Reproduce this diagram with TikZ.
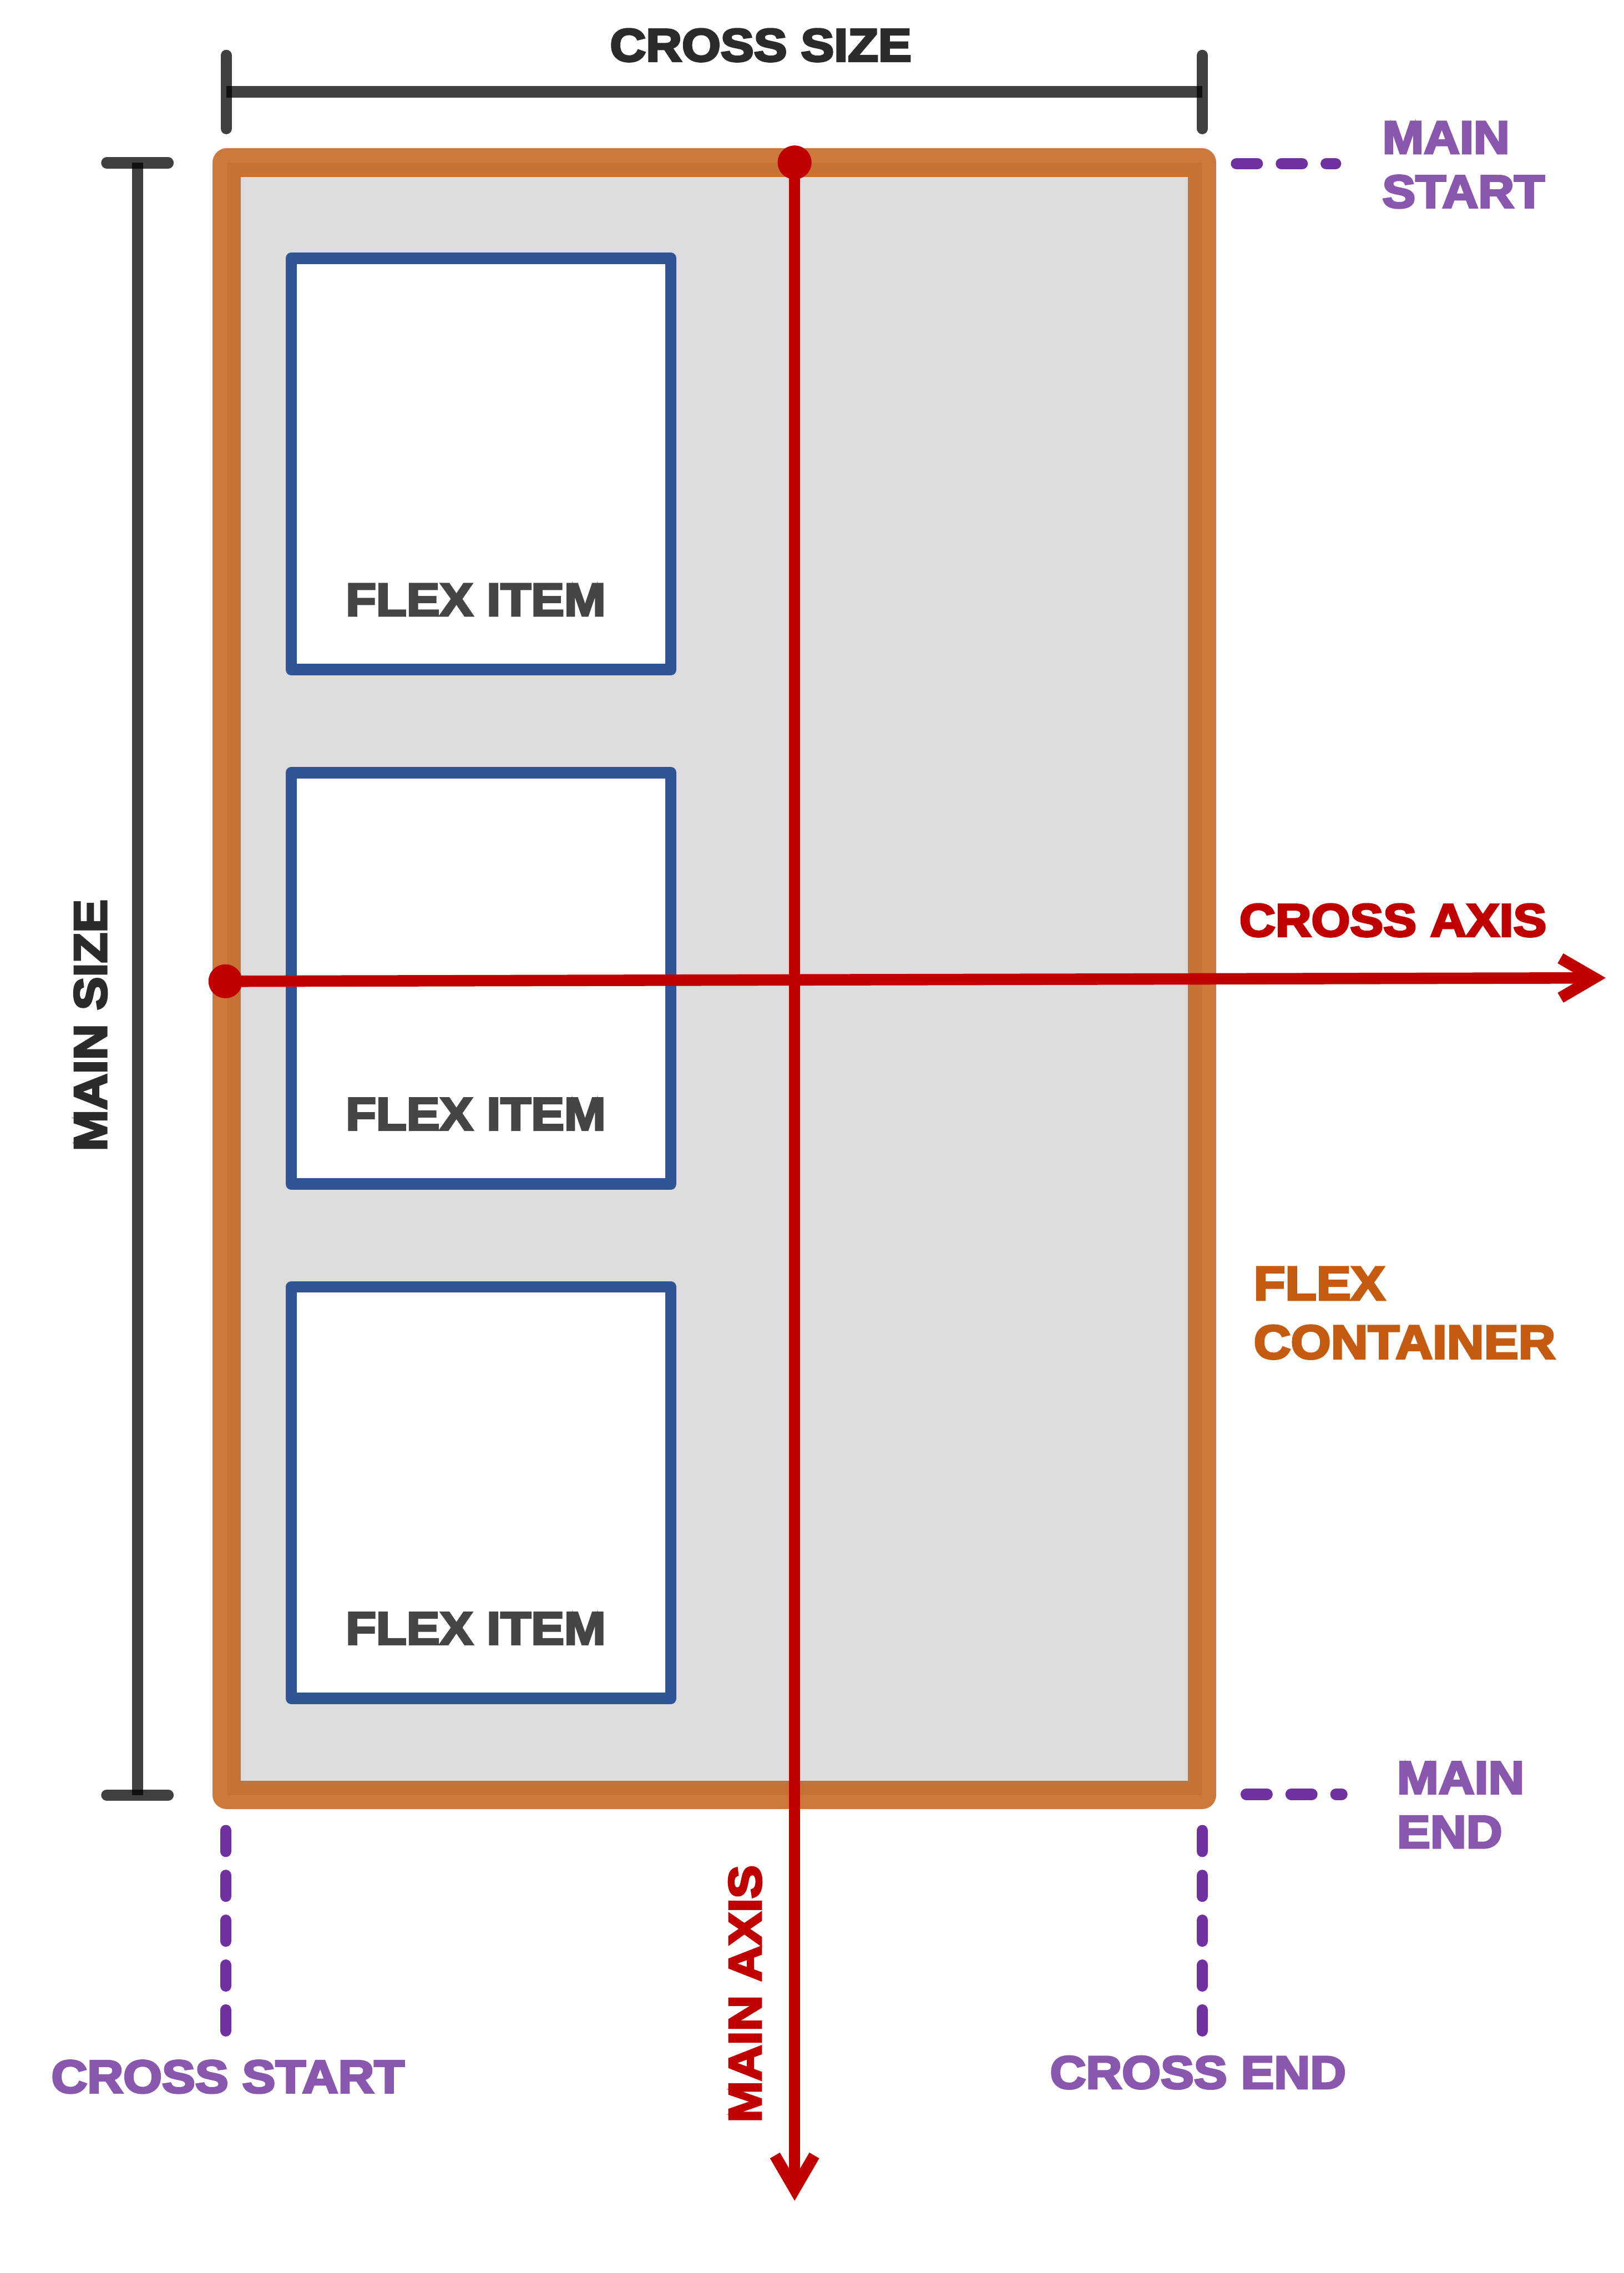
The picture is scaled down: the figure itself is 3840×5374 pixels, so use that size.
\documentclass[tikz,border=0pt]{standalone}
\usepackage{fontspec}
\setmainfont{Liberation Sans}
\newfontfamily\lblfont[FakeStretch=1.08,BoldFeatures={FakeBold=4.5}]{Liberation Sans}
\usetikzlibrary{arrows.meta}
\definecolor{orangeL}{HTML}{CD793C}
\definecolor{orangeD}{HTML}{C77235}
\definecolor{contfill}{HTML}{DCDCDC}
\definecolor{itemblue}{HTML}{2F5597}
\definecolor{axisred}{HTML}{C00000}
\definecolor{guidepurple}{HTML}{7030A0}
\definecolor{lblpurple}{HTML}{8957AE}
\definecolor{contorange}{HTML}{C55A11}
\definecolor{itemtext}{HTML}{454545}
\definecolor{dimtext}{HTML}{2B2B2B}
\begin{document}
\begin{tikzpicture}[x=0.01cm,y=-0.01cm,
  lbl/.style={inner sep=0pt, font=\lblfont\bfseries\fontsize{31}{36.4}\selectfont},
  container/.style={draw=orangeL, line width=0.67cm, fill=contfill, line join=round,
    outer sep=0pt, minimum width=23.05cm, minimum height=38.575cm, inner sep=0pt},
  itembox/.style={draw=itemblue, fill=white, line width=0.27cm, line join=round,
    minimum width=8.97cm, minimum height=9.72cm, inner sep=0pt},
  dot/.style={circle, fill=axisred, minimum size=0.8cm, inner sep=0pt},
  axis/.style={draw=axisred, line width=0.27cm, -{Straight Barb[length=0.8cm,width=0.93cm]}},
  dimbar/.style={draw=black, draw opacity=0.75, line width=0.265cm},
  dimtick/.style={draw=black, draw opacity=0.75, line width=0.265cm, line cap=round},
  guide/.style={draw=guidepurple, line width=0.27cm, line cap=round, dash pattern=on 0.49cm off 0.57cm}
]
\useasboundingbox (0,0) rectangle (3840,5374);

% flex container
\node[container] (fc) at (1689.5,2314.25) {};
\draw[orangeD, line width=0.335cm] ([xshift=0.1675cm,yshift=-0.1675cm]fc.north west) rectangle ([xshift=-0.1675cm,yshift=0.1675cm]fc.south east);

% flex items
\node[itembox] (i1) at (1137.5,1097) {};
\node[itembox] (i2) at (1137.5,2313) {};
\node[itembox] (i3) at (1137.5,3529) {};
\node[lbl, itemtext] (t1) at (1125,1418) {FLEX ITEM};
\node[lbl, itemtext] (t2) at (1125,2634) {FLEX ITEM};
\node[lbl, itemtext] (t3) at (1125,3850) {FLEX ITEM};

% main axis
\node[dot] (ms) at (1879,384) {};
\coordinate (mtip) at (1879,5203);
\draw[axis] (ms.center) -- (mtip);

% cross axis
\node[dot] (cs) at (533,2320) {};
\coordinate (ctip) at (3797,2312);
\draw[axis] (cs.center) -- (ctip);

% cross size dimension
\coordinate (csL) at (535,217);
\coordinate (csR) at (2843,217);
\draw[dimbar] (csL) -- (csR);
\draw[dimtick] ([yshift=0.86cm]csL) -- ([yshift=-0.87cm]csL);
\draw[dimtick] ([yshift=0.86cm]csR) -- ([yshift=-0.87cm]csR);

% main size dimension
\coordinate (msT) at (325,385);
\coordinate (msB) at (325,4244);
\draw[dimbar] (msT) -- (msB);
\draw[dimtick] ([xshift=-0.725cm]msT) -- ([xshift=0.725cm]msT);
\draw[dimtick] ([xshift=-0.725cm]msB) -- ([xshift=0.725cm]msB);

% guides
\coordinate (g1a) at (2924,387);  \coordinate (g1b) at (3158,387);
\coordinate (g2a) at (2947,4242); \coordinate (g2b) at (3173,4242);
\coordinate (g3a) at (534,4328);  \coordinate (g3b) at (534,4804);
\coordinate (g4a) at (2843,4328); \coordinate (g4b) at (2843,4804);
\draw[guide] (g1a) -- (g1b);
\draw[guide] (g2a) -- (g2b);
\draw[guide] (g3a) -- (g3b);
\draw[guide] (g4a) -- (g4b);

% labels
\node[lbl, dimtext] (lcs) at (1799,107) {CROSS SIZE};
\node[lbl, dimtext, rotate=90] (lms) at (214,2424) {MAIN SIZE};
\node[lbl, lblpurple, align=left, anchor=north west] (lmst) at (3268,287) {MAIN\\START};
\node[lbl, lblpurple, align=left, anchor=north west] (lmen) at (3303,4165) {MAIN\\END};
\node[lbl, axisred] (lca) at (3294,2176) {CROSS AXIS};
\node[lbl, contorange, align=left, anchor=north west, font=\lblfont\bfseries\fontsize{32}{39.5}\selectfont] (lfc) at (2964,2995) {FLEX\\CONTAINER};
\node[lbl, lblpurple] (lcst) at (539,4910) {CROSS START};
\node[lbl, lblpurple] (lce) at (2833,4900) {CROSS END};
\node[lbl, axisred, rotate=90] (lma) at (1762,4714) {MAIN AXIS};
\end{tikzpicture}
\end{document}
